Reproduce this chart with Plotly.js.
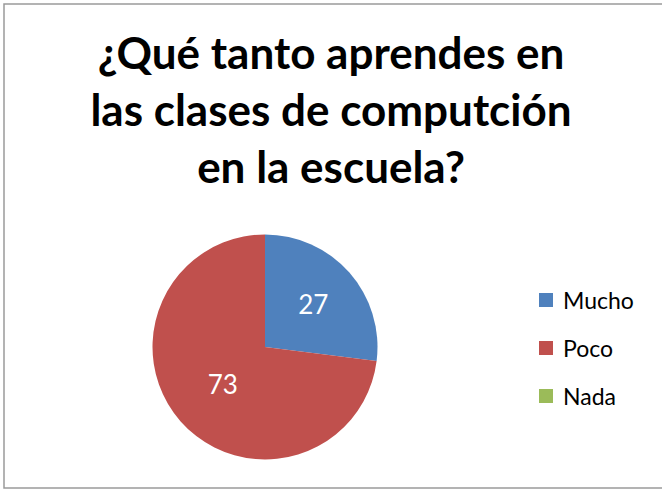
<!DOCTYPE html>
<html>
<head>
<meta charset="utf-8">
<script src="https://cdn.plot.ly/plotly-3.0.1.min.js"></script>
<style>html,body{margin:0;padding:0;background:#fff;}#chart{width:662px;height:489px;}</style>
</head>
<body>
<div id="chart"></div>
<script>
// Data
const categories = ['Mucho', 'Poco', 'Nada'];
const values = [27, 73, 0];
const colors = ['#4F81BD', '#C0504D', '#9BBB59'];
const titleText = '¿Qué tanto aprendes en<br>las clases de computción<br>en la escuela?';

const W = 662, H = 489;
const px = x => x / W;
const py = y => (H - y) / H;

// pie geometry (pixels)
const cx = 265, cy = 347, r = 112.5;

const trace = {
  type: 'pie',
  labels: categories,
  values: values,
  sort: false,
  direction: 'clockwise',
  rotation: 0,
  marker: { colors: colors, line: { width: 0 } },
  textinfo: 'value',
  textposition: values.map(v => v > 0 ? 'inside' : 'none'),
  insidetextorientation: 'horizontal',
  insidetextfont: { family: 'Lato, sans-serif', size: 26, color: '#ffffff' },
  domain: { x: [px(cx - r), px(cx + r)], y: [py(cy + r), py(cy - r)] },
  showlegend: false,
  hoverinfo: 'label+value'
};

// manual legend
const legendX = 539, legendTextX = 561, legendY0 = 300, legendStep = 48, sq = 14;
const shapes = [{
  type: 'rect', xref: 'paper', yref: 'paper',
  x0: px(4), x1: px(670), y0: py(488), y1: py(4),
  line: { color: '#9a9a9a', width: 1.5 }, fillcolor: 'rgba(0,0,0,0)'
}];
const annotations = [];
categories.forEach((c, i) => {
  const yc = legendY0 + i * legendStep;
  shapes.push({
    type: 'rect', xref: 'paper', yref: 'paper',
    x0: px(legendX), x1: px(legendX + sq), y0: py(yc + sq / 2), y1: py(yc - sq / 2),
    line: { width: 0 }, fillcolor: colors[i]
  });
  annotations.push({
    xref: 'paper', yref: 'paper', x: px(legendTextX), y: py(yc),
    xanchor: 'left', yanchor: 'middle', showarrow: false, text: c,
    font: { family: 'Lato, sans-serif', size: 23, color: '#000000' }
  });
});

const layout = {
  width: W, height: H,
  margin: { l: 0, r: 0, t: 0, b: 0 },
  paper_bgcolor: '#ffffff',
  title: {
    text: titleText,
    font: { family: 'Lato, sans-serif', size: 44, color: '#000000', weight: 'bold' },
    x: 0.5, xanchor: 'center', xref: 'paper',
    y: 1 - 69 / H, yanchor: 'top', yref: 'container'
  },
  showlegend: false,
  shapes: shapes,
  annotations: annotations
};

Plotly.newPlot('chart', [trace], layout, { displayModeBar: false, staticPlot: true });
</script>
</body>
</html>
